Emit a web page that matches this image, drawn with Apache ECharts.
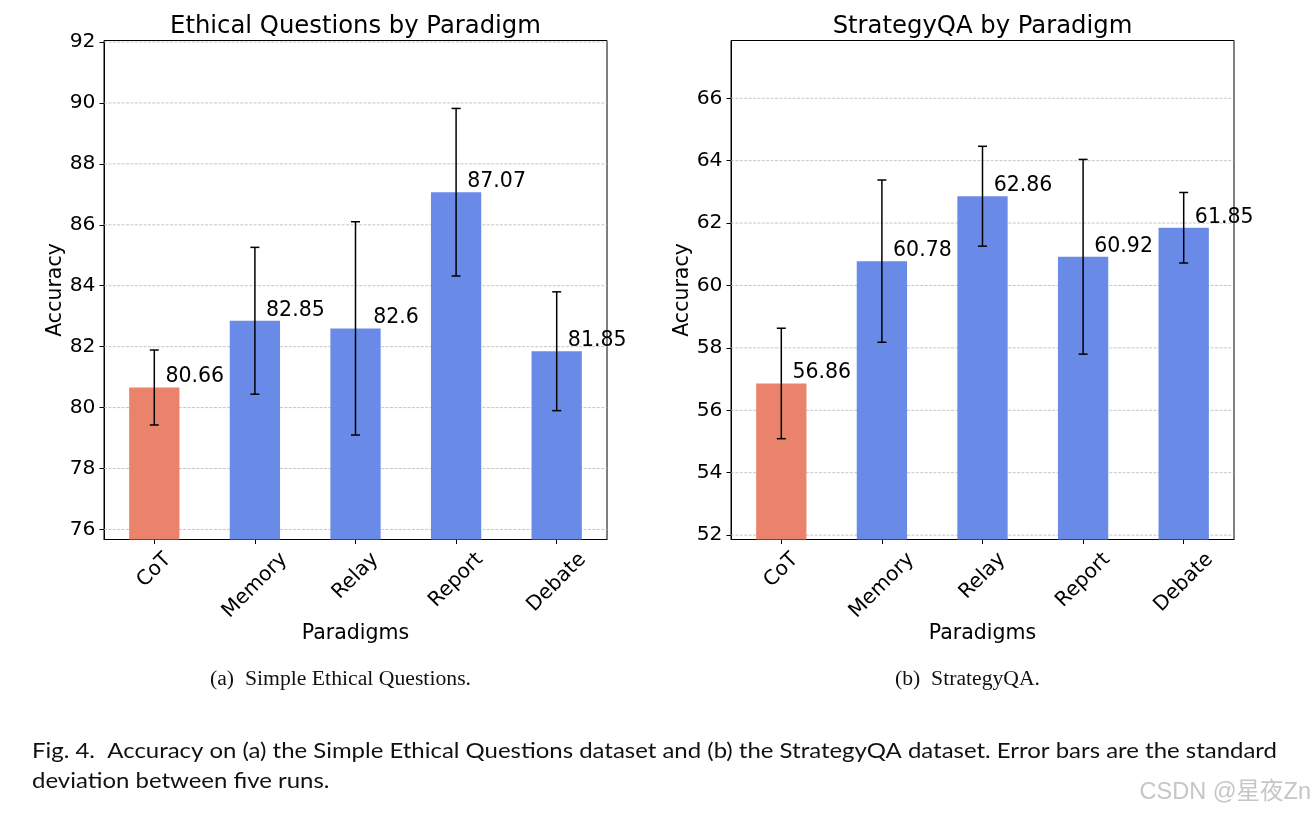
<!DOCTYPE html>
<html>
<head>
<meta charset="utf-8">
<script src="https://cdn.jsdelivr.net/npm/echarts@6/dist/echarts.min.js"></script>
<style>
html,body{margin:0;padding:0;background:#fff;}
#chart{width:1315px;height:813px;}
</style>
</head>
<body>
<div id="chart"></div>
<script>
// ---- data ----
const categories = ['CoT', 'Memory', 'Relay', 'Report', 'Debate'];
const ethicalMeans = [80.66, 82.85, 82.6, 87.07, 81.85];
const ethicalStd = [1.23, 2.41, 3.5, 2.75, 1.95];
const strategyMeans = [56.86, 60.78, 62.86, 60.92, 61.85];
const strategyStd = [1.77, 2.6, 1.6, 3.12, 1.13];
const ethicalTicks = [76, 78, 80, 82, 84, 86, 88, 90, 92];
const strategyTicks = [52, 54, 56, 58, 60, 62, 64, 66];
const ethicalRange = [75.67, 92.05];
const strategyRange = [51.86, 67.85];
const titles = ['Ethical Questions by Paradigm', 'StrategyQA by Paradigm'];
const subCaptions = ['(a)  Simple Ethical Questions.', '(b)  StrategyQA.'];
const figCaption = ['Fig. 4.  Accuracy on (a) the Simple Ethical Questions dataset and (b) the StrategyQA dataset. Error bars are the standard',
                    'deviation between five runs.'];
const watermark = 'CSDN @星夜Zn';

// ---- style ----
const FONT = 'DejaVu Sans';
const TICK_FS = 20.3;
const LABEL_FS = 20.5;
const TITLE_FS = 24.3;
const RED = '#EB836C';
const BLUE = '#6A8AE8';
const grids = [
  {left: 104, top: 40.5, width: 503, height: 499},
  {left: 731, top: 40.5, width: 503, height: 499}
];

const measureCtx = document.createElement('canvas').getContext('2d');
function textWidth(t, fs, fam) {
  measureCtx.font = fs + 'px "' + (fam || FONT) + '"';
  return measureCtx.measureText(t).width;
}

const chart = echarts.init(document.getElementById('chart'), null, {renderer: 'canvas'});

function makeAxes(gi, ticks, range) {
  const x = {
    type: 'category', gridIndex: gi, data: categories,
    boundaryGap: true,
    axisLine: {show: true, lineStyle: {color: '#000', width: 1}},
    axisTick: {show: true, alignWithLabel: true, length: 4.5, lineStyle: {color: '#000', width: 1}},
    axisLabel: {show: false},
    splitLine: {show: false},
    name: 'Paradigms', nameLocation: 'middle', nameGap: 94.5,
    nameTextStyle: {fontFamily: FONT, fontSize: LABEL_FS, color: '#000', verticalAlign: 'middle'}
  };
  const y = {
    type: 'value', gridIndex: gi, min: range[0], max: range[1],
    axisLine: {show: true, lineStyle: {color: '#000', width: 1}},
    axisTick: {show: true, length: 4.5, customValues: ticks, lineStyle: {color: '#000', width: 1}},
    axisLabel: {show: true, customValues: ticks, margin: 8.5, fontFamily: FONT, fontSize: TICK_FS, color: '#000', padding: [4, 0, 0, 0]},
    splitLine: {show: false},
    name: 'Accuracy', nameLocation: 'middle', nameGap: 47,
    nameTextStyle: {fontFamily: FONT, fontSize: LABEL_FS, color: '#000', verticalAlign: 'middle'}
  };
  return [x, y];
}

function gridLineSeries(gi, ticks) {
  return {
    type: 'custom', xAxisIndex: gi, yAxisIndex: gi, z: 1, silent: true, clip: false,
    data: ticks.map(v => [0, v]),
    encode: {x: 0, y: 1},
    renderItem: function (params, api) {
      const cs = params.coordSys;
      const yy = api.coord([0, api.value(1)])[1];
      return {
        type: 'line',
        shape: {x1: cs.x, y1: yy, x2: cs.x + cs.width, y2: yy},
        style: {stroke: '#b8b8b8', lineWidth: 0.8, lineDash: [3, 1.4]}
      };
    }
  };
}

function barSeries(gi, means) {
  return {
    type: 'bar', xAxisIndex: gi, yAxisIndex: gi, z: 2,
    data: means, barWidth: '50%',
    itemStyle: {color: p => p.dataIndex === 0 ? RED : BLUE},
    label: {show: true, position: 'top', distance: 0, offset: [40.5, 0],
            fontFamily: FONT, fontSize: LABEL_FS, color: '#000'},
    emphasis: {disabled: true}
  };
}

function errorSeries(gi, means, stds) {
  return {
    type: 'custom', xAxisIndex: gi, yAxisIndex: gi, z: 3, silent: true, clip: false,
    data: means.map((m, i) => [i, m, stds[i]]),
    encode: {x: 0, y: 1},
    renderItem: function (params, api) {
      const i = api.value(0), m = api.value(1), s = api.value(2);
      const top = api.coord([i, m + s]);
      const bot = api.coord([i, m - s]);
      const st = {stroke: '#000', lineWidth: 1.5};
      const cap = 4.5;
      return {
        type: 'group',
        children: [
          {type: 'line', shape: {x1: top[0], y1: top[1], x2: bot[0], y2: bot[1]}, style: st},
          {type: 'line', shape: {x1: top[0] - cap, y1: top[1], x2: top[0] + cap, y2: top[1]}, style: st},
          {type: 'line', shape: {x1: bot[0] - cap, y1: bot[1], x2: bot[0] + cap, y2: bot[1]}, style: st}
        ]
      };
    }
  };
}

function xLabelSeries(gi, range) {
  return {
    type: 'custom', xAxisIndex: gi, yAxisIndex: gi, z: 3, silent: true, clip: false,
    data: categories.map((c, i) => [i, range[0]]),
    encode: {x: 0, y: 1},
    renderItem: function (params, api) {
      const i = api.value(0);
      const pt = api.coord([i, range[0]]);
      const cs = params.coordSys;
      const bottom = cs.y + cs.height;
      const txt = categories[i];
      const w = textWidth(txt, TICK_FS);
      const h = TICK_FS * 1.1;
      const cy = bottom + 9 + (w + h) * 0.35355;
      return {
        type: 'text', x: pt[0], y: cy, rotation: Math.PI / 4,
        style: {text: txt, fontFamily: FONT, fontSize: TICK_FS, fill: '#000', align: 'center', verticalAlign: 'middle'}
      };
    }
  };
}

// text fitting for captions (fonts of the original are not installed)
const CAP_FAMILY = 'Lato', CAP_FS = 21.5;
const capScale = 1245 / textWidth(figCaption[0], CAP_FS, CAP_FAMILY);
const SUB_FAMILY = 'Liberation Serif', SUB_FS = 20;
const subScaleA = 261 / textWidth(subCaptions[0], SUB_FS, SUB_FAMILY);
const subScaleB = 145 / textWidth(subCaptions[1], SUB_FS, SUB_FAMILY);

const ax1 = makeAxes(0, ethicalTicks, ethicalRange);
const ax2 = makeAxes(1, strategyTicks, strategyRange);

const option = {
  animation: false,
  backgroundColor: '#fff',
  title: [
    {text: titles[0], left: grids[0].left + grids[0].width / 2, top: 15, textAlign: 'center', padding: 0,
     textStyle: {fontFamily: FONT, fontSize: TITLE_FS, fontWeight: 'normal', color: '#000'}},
    {text: titles[1], left: grids[1].left + grids[1].width / 2, top: 15, textAlign: 'center', padding: 0,
     textStyle: {fontFamily: FONT, fontSize: TITLE_FS, fontWeight: 'normal', color: '#000'}}
  ],
  grid: grids.map(g => Object.assign({show: true, borderColor: '#000', borderWidth: 1, backgroundColor: 'transparent', containLabel: false}, g)),
  xAxis: [ax1[0], ax2[0]],
  yAxis: [ax1[1], ax2[1]],
  series: [
    gridLineSeries(0, ethicalTicks),
    barSeries(0, ethicalMeans),
    errorSeries(0, ethicalMeans, ethicalStd),
    xLabelSeries(0, ethicalRange),
    gridLineSeries(1, strategyTicks),
    barSeries(1, strategyMeans),
    errorSeries(1, strategyMeans, strategyStd),
    xLabelSeries(1, strategyRange)
  ],
  graphic: [
    {type: 'text', x: 340.5, y: 679.5, scaleX: subScaleA, style: {text: subCaptions[0], fontFamily: SUB_FAMILY, fontSize: SUB_FS, fill: '#111', align: 'center', verticalAlign: 'middle'}},
    {type: 'text', x: 967.5, y: 679.5, scaleX: subScaleB, style: {text: subCaptions[1], fontFamily: SUB_FAMILY, fontSize: SUB_FS, fill: '#111', align: 'center', verticalAlign: 'middle'}},
    {type: 'text', x: 32, y: 751, scaleX: capScale, style: {text: figCaption[0], fontFamily: CAP_FAMILY, fontSize: CAP_FS, fill: '#111', align: 'left', verticalAlign: 'middle'}},
    {type: 'text', x: 32, y: 781, scaleX: capScale, style: {text: figCaption[1], fontFamily: CAP_FAMILY, fontSize: CAP_FS, fill: '#111', align: 'left', verticalAlign: 'middle'}},
    {type: 'text', x: 1311, y: 793, style: {text: watermark, fontFamily: 'Liberation Sans, Noto Sans CJK SC', fontSize: 23.5, fill: '#c6c6c6', align: 'right', verticalAlign: 'middle'}}
  ]
};
chart.setOption(option);
</script>
</body>
</html>
